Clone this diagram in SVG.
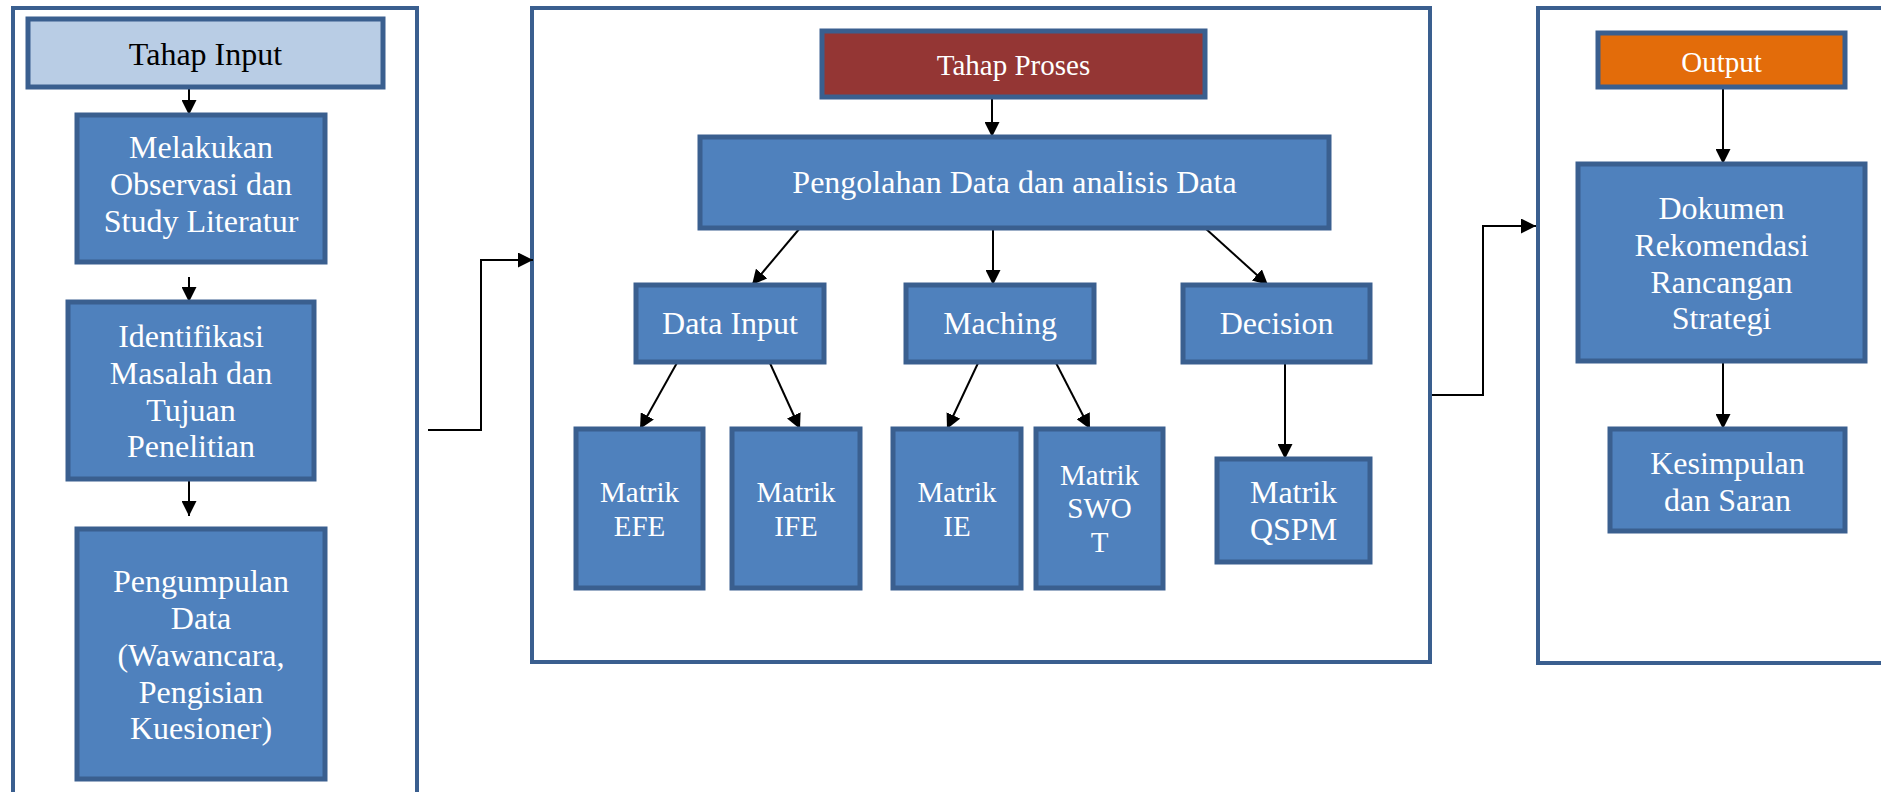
<svg xmlns="http://www.w3.org/2000/svg" width="1881" height="792" viewBox="0 0 1881 792">
<style>
.cont{fill:#fff;stroke:#3A5F8F;stroke-width:4}
.node{fill:#4F81BD;stroke:#3A5F8F;stroke-width:5}
.t{font-family:"Liberation Serif","Times New Roman",serif;text-anchor:middle;fill:#fff;font-size:32px}
.s{font-size:29px}
.dark{fill:#000}
.c{fill:none;stroke:#000;stroke-width:2}
</style>
<defs>
<marker id="ah" viewBox="0 0 10 10" refX="10" refY="5" markerWidth="15" markerHeight="15" markerUnits="userSpaceOnUse" orient="auto">
<path d="M0,0 L10,5 L0,10 z" fill="#000"/>
</marker>
</defs>
<rect width="1881" height="792" fill="#fff"/>
<g id="containers">
<rect class="cont" x="13" y="8" width="404" height="800"/>
<rect class="cont" x="532" y="8" width="898" height="654"/>
<rect class="cont" x="1538" y="8" width="400" height="655"/>
</g>
<g id="connectors">
<line class="c" x1="189" y1="87" x2="189" y2="115" marker-end="url(#ah)"/>
<line class="c" x1="189" y1="277" x2="189" y2="302" marker-end="url(#ah)"/>
<line class="c" x1="189" y1="479" x2="189" y2="516" marker-end="url(#ah)"/>
<polyline class="c" points="428,430 481,430 481,260 533,260" marker-end="url(#ah)"/>
<line class="c" x1="992" y1="97" x2="992" y2="137" marker-end="url(#ah)"/>
<line class="c" x1="800" y1="228" x2="752" y2="285" marker-end="url(#ah)"/>
<line class="c" x1="993" y1="228" x2="993" y2="285" marker-end="url(#ah)"/>
<line class="c" x1="1205" y1="228" x2="1268" y2="285" marker-end="url(#ah)"/>
<line class="c" x1="678" y1="361" x2="640" y2="429" marker-end="url(#ah)"/>
<line class="c" x1="769" y1="361" x2="800" y2="429" marker-end="url(#ah)"/>
<line class="c" x1="979" y1="361" x2="947" y2="429" marker-end="url(#ah)"/>
<line class="c" x1="1055" y1="361" x2="1090" y2="429" marker-end="url(#ah)"/>
<line class="c" x1="1285" y1="361" x2="1285" y2="459" marker-end="url(#ah)"/>
<polyline class="c" points="1432,395 1483,395 1483,226 1536,226" marker-end="url(#ah)"/>
<line class="c" x1="1723" y1="87" x2="1723" y2="164" marker-end="url(#ah)"/>
<line class="c" x1="1723" y1="361" x2="1723" y2="429" marker-end="url(#ah)"/>
</g>
<g id="tahap-input">
<rect x="28" y="19" width="355" height="68" fill="#B9CDE5" stroke="#3A5F8F" stroke-width="5"/>
<text class="t dark" x="205.5" y="65">Tahap Input</text>
</g>
<g id="melakukan">
<rect class="node" x="77" y="115" width="248" height="147"/>
<text class="t" x="201" y="158">Melakukan</text>
<text class="t" x="201" y="195">Observasi dan</text>
<text class="t" x="201" y="232">Study Literatur</text>
</g>
<g id="identifikasi">
<rect class="node" x="68" y="302" width="246" height="177"/>
<text class="t" x="191" y="347">Identifikasi</text>
<text class="t" x="191" y="384">Masalah dan</text>
<text class="t" x="191" y="421">Tujuan</text>
<text class="t" x="191" y="457">Penelitian</text>
</g>
<g id="pengumpulan">
<rect class="node" x="77" y="529" width="248" height="250"/>
<text class="t" x="201" y="592">Pengumpulan</text>
<text class="t" x="201" y="629">Data</text>
<text class="t" x="201" y="666">(Wawancara,</text>
<text class="t" x="201" y="703">Pengisian</text>
<text class="t" x="201" y="739">Kuesioner)</text>
</g>
<g id="tahap-proses">
<rect x="822" y="31" width="383" height="66" fill="#943634" stroke="#3A5F8F" stroke-width="5"/>
<text class="t s" x="1013.5" y="75">Tahap Proses</text>
</g>
<g id="pengolahan">
<rect class="node" x="700" y="137" width="629" height="91"/>
<text class="t" x="1014.5" y="193">Pengolahan Data dan analisis Data</text>
</g>
<g id="data-input">
<rect class="node" x="636" y="285" width="188" height="77"/>
<text class="t" x="730" y="334">Data Input</text>
</g>
<g id="maching">
<rect class="node" x="906" y="285" width="188" height="77"/>
<text class="t" x="1000" y="334">Maching</text>
</g>
<g id="decision">
<rect class="node" x="1183" y="285" width="187" height="77"/>
<text class="t" x="1276.5" y="334">Decision</text>
</g>
<g id="matrik-efe">
<rect class="node" x="576" y="429" width="127" height="159"/>
<text class="t s" x="639.5" y="502">Matrik</text>
<text class="t s" x="639.5" y="536">EFE</text>
</g>
<g id="matrik-ife">
<rect class="node" x="732" y="429" width="128" height="159"/>
<text class="t s" x="796" y="502">Matrik</text>
<text class="t s" x="796" y="536">IFE</text>
</g>
<g id="matrik-ie">
<rect class="node" x="893" y="429" width="128" height="159"/>
<text class="t s" x="957" y="502">Matrik</text>
<text class="t s" x="957" y="536">IE</text>
</g>
<g id="matrik-swot">
<rect class="node" x="1036" y="429" width="127" height="159"/>
<text class="t s" x="1099.5" y="485">Matrik</text>
<text class="t s" x="1099.5" y="518">SWO</text>
<text class="t s" x="1099.5" y="552">T</text>
</g>
<g id="matrik-qspm">
<rect class="node" x="1217" y="459" width="153" height="103"/>
<text class="t" x="1293.5" y="503">Matrik</text>
<text class="t" x="1293.5" y="540">QSPM</text>
</g>
<g id="output">
<rect x="1598" y="33" width="247" height="54" fill="#E36C0A" stroke="#3A5F8F" stroke-width="5"/>
<text class="t s" x="1721.5" y="72">Output</text>
</g>
<g id="dokumen">
<rect class="node" x="1578" y="164" width="287" height="197"/>
<text class="t" x="1721.5" y="219">Dokumen</text>
<text class="t" x="1721.5" y="256">Rekomendasi</text>
<text class="t" x="1721.5" y="293">Rancangan</text>
<text class="t" x="1721.5" y="329">Strategi</text>
</g>
<g id="kesimpulan">
<rect class="node" x="1610" y="429" width="235" height="102"/>
<text class="t" x="1727.5" y="474">Kesimpulan</text>
<text class="t" x="1727.5" y="511">dan Saran</text>
</g>
</svg>
